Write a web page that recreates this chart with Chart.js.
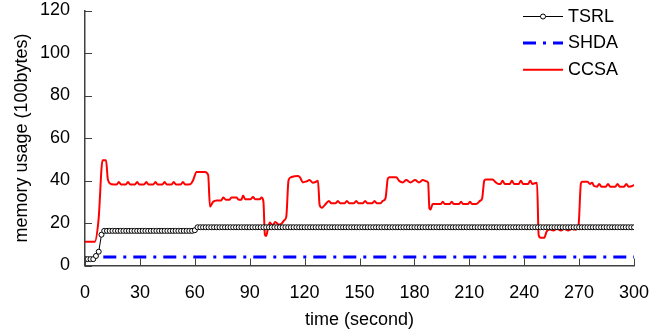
<!DOCTYPE html>
<html>
<head>
<meta charset="utf-8">
<script src="https://cdn.jsdelivr.net/npm/chart.js@4.4.1/dist/chart.umd.min.js"></script>
<style>
html,body{margin:0;padding:0;background:#fff;}
#wrap{width:668px;height:336px;}
</style>
</head>
<body>
<div id="wrap"><canvas id="c" width="668" height="336"></canvas></div>
<script>
const seriesNames = ['TSRL', 'SHDA', 'CCSA'];
const xTickValues = [0, 30, 60, 90, 120, 150, 180, 210, 240, 270, 300];
const yTickValues = [0, 20, 40, 60, 80, 100, 120];

// TSRL sampled every 1.5 s
const tsrlStep = 1.5;
const tsrlValue = [
  3,3,3,3,4.5,6.5,14.5,16.3,16.3,16.3,16.3,16.3,16.3,16.3,16.3,16.3,16.3,16.3,16.3,16.3,
  16.3,16.3,16.3,16.3,16.3,16.3,16.3,16.3,16.3,16.3,16.3,16.3,16.3,16.3,16.3,16.3,16.3,16.3,16.3,16.3,
  16.6,18,18,18,18,18,18,18,18,18,18,18,18,18,18,18,18,18,18,18,
  18,18,18,18,18,18,18,18,18,18,18,18,18,18,18,18,18,18,18,18,
  18,18,18,18,18,18,18,18,18,18,18,18,18,18,18,18,18,18,18,18,
  18,18,18,18,18,18,18,18,18,18,18,18,18,18,18,18,18,18,18,18,
  18,18,18,18,18,18,18,18,18,18,18,18,18,18,18,18,18,18,18,18,
  18,18,18,18,18,18,18,18,18,18,18,18,18,18,18,18,18,18,18,18,
  18,18,18,18,18,18,18,18,18,18,18,18,18,18,18,18,18,18,18,18,
  18,18,18,18,18,18,18,18,18,18,18,18,18,18,18,18,18,18,18,18,18
];

const shdaTime = [10, 300];
const shdaValue = [4, 4];

const ccsaTime = [
  0,5.3,7.4,9.6,11.5,12.5,14.7,17.3,18.5,19.7,22.3,23.5,24.7,27.3,28.5,29.7,32.3,33.5,34.7,37.3,
  38.5,39.7,42.3,43.5,44.7,47.3,48.5,49.7,52.3,53.5,54.7,57.5,59,61,65.5,67.3,68.3,70,72,74.5,
  75.5,77,79,80,82.7,84,85.5,86.4,87.5,90.5,91.8,93,95.5,96.5,97.5,98.3,99,100,101,102.5,
  104,105.8,107.5,109,110,111.2,112.5,116.4,117.5,119,121,122.7,124.5,126,127.3,128.2,129.5,131,133.3,134.6,
  137,138.2,139.4,141.9,143.1,144.3,147,148.2,149.4,151.9,153.1,154.3,157,158.2,159.4,161.5,162.7,164.2,165.5,166.4,
  170,171.8,173.6,175.6,177.8,180.4,182.5,184.6,186.4,187.5,188.2,188.8,190,194.3,195.5,196.7,199.2,200.4,201.6,204.3,
  205.5,206.7,209.2,210.4,211.6,213.7,216,217,218.2,219,222.7,224.5,226,227,228.2,229.4,232.1,233.3,234.5,237,
  238.2,239.4,242.1,243.3,244.5,247,247.9,249,251,252.2,253.6,256,258,260,262,264,266,268,269.7,271,
  271.8,274.5,276,277.1,278.2,279.8,281,282.2,284.6,285.8,287,289.8,291,292.2,294.6,295.8,297,299,300
];
const ccsaValue = [
  11.2,11.2,21.5,49.5,49.5,40.5,38.2,38.1,39.3,38.1,38.1,39.3,38.1,38.1,39.3,38.1,38.1,39.3,38.1,38.1,
  39.3,38.1,38.1,39.3,38.1,38.1,39.3,38.1,38.1,39.3,38.1,38.2,40,44,44,42.6,27.7,30,30.6,30.6,
  32,31,31,32,32,31,31,33,31.2,31.2,32.2,31.2,31.2,32,30,14.5,13.9,17.5,20.2,18.8,
  20.5,19.3,19.8,21.4,23,40,41.5,42.1,41.5,39.1,39.6,40.2,39,39.3,39.9,28.5,27.2,28.4,30.4,29.3,
  29.3,30.4,29.3,29.3,30.4,29.3,29.3,30.4,29.3,29.3,30.4,29.3,29.3,30.4,29.3,29.3,30.4,31.6,41,41.5,
  41.5,39.7,39.1,40.2,39.1,40.2,39.1,40.2,39.6,39,26.9,26.4,28.9,28.9,30,28.9,28.9,30,28.9,28.9,
  30,28.9,28.9,30,28.9,28.9,30.5,31.5,40,40.5,40.5,39.1,38.4,38.4,39.9,38.4,38.4,39.9,38.4,38.4,
  39.9,38.4,38.4,39.9,38.4,39,14.4,13.1,13.1,15.9,17,16.5,17.3,16.5,17.3,16.5,17.2,16.8,19,38.7,
  39.4,39.4,38.4,39,37.4,37.1,38.4,37.1,37.1,38.4,37.1,37.1,38.4,37.1,37.1,38.4,37.1,37.4,38
];

const FONT = "'Liberation Sans', Arial, sans-serif";
const AXIS_COLOR = '#404040';

const tsrlData = tsrlValue.map((v, i) => ({x: i * tsrlStep, y: v}));
const shdaData = shdaTime.map((t, i) => ({x: t, y: shdaValue[i]}));
const ccsaData = ccsaTime.map((t, i) => ({x: t, y: ccsaValue[i]}));

const inwardTicks = {
  id: 'inwardTicks',
  afterDraw(chart) {
    const ctx = chart.ctx;
    const xs = chart.scales.x, ys = chart.scales.y;
    const area = chart.chartArea;
    ctx.save();
    ctx.strokeStyle = AXIS_COLOR;
    ctx.lineWidth = 1;
    xTickValues.forEach(v => {
      const px = Math.round(xs.getPixelForValue(v)) + 0.5;
      ctx.beginPath();
      ctx.moveTo(px, area.bottom);
      ctx.lineTo(px, area.bottom - 7);
      ctx.stroke();
    });
    yTickValues.forEach(v => {
      const py = Math.round(ys.getPixelForValue(v)) + 0.5;
      ctx.beginPath();
      ctx.moveTo(area.left, py);
      ctx.lineTo(area.left + 7, py);
      ctx.stroke();
    });
    ctx.restore();
  }
};

const customLegend = {
  id: 'customLegend',
  afterDraw(chart) {
    const ctx = chart.ctx;
    const rows = [16.5, 43, 69.8];
    const x1 = 523, x2 = 563, tx = 568;
    ctx.save();
    chart.data.datasets.forEach((ds, i) => {
      const y = rows[i];
      ctx.beginPath();
      ctx.strokeStyle = ds.borderColor;
      ctx.lineWidth = ds.borderWidth;
      ctx.setLineDash(ds.borderDash || []);
      ctx.moveTo(x1, y);
      ctx.lineTo(x2, y);
      ctx.stroke();
      ctx.setLineDash([]);
      if (ds.pointRadius > 0) {
        ctx.beginPath();
        ctx.fillStyle = ds.pointBackgroundColor;
        ctx.strokeStyle = ds.pointBorderColor;
        ctx.lineWidth = ds.pointBorderWidth;
        ctx.arc((x1 + x2) / 2, y, ds.pointRadius, 0, Math.PI * 2);
        ctx.fill();
        ctx.stroke();
      }
      ctx.fillStyle = '#000';
      ctx.font = '18px ' + FONT;
      ctx.textAlign = 'left';
      ctx.textBaseline = 'middle';
      ctx.fillText(seriesNames[i], tx, y + 0.5);
    });
    ctx.restore();
  }
};

new Chart(document.getElementById('c'), {
  type: 'line',
  data: {
    datasets: [
      {
        label: seriesNames[0], data: tsrlData,
        borderColor: '#000', borderWidth: 1,
        pointRadius: 2.5, pointBorderWidth: 1,
        pointBackgroundColor: '#fff', pointBorderColor: '#000',
        tension: 0
      },
      {
        label: seriesNames[1], data: shdaData,
        borderColor: '#0000ff', borderWidth: 3,
        borderDash: [13, 7, 3, 7],
        pointRadius: 0, tension: 0
      },
      {
        label: seriesNames[2], data: ccsaData,
        borderColor: '#ff0000', borderWidth: 2,
        pointRadius: 0, tension: 0.4, cubicInterpolationMode: 'monotone'
      }
    ]
  },
  options: {
    responsive: false,
    animation: false,
    events: [],
    layout: {padding: {top: 10.5, right: 34, left: 0, bottom: 0}},
    plugins: {legend: {display: false}, tooltip: {enabled: false}},
    scales: {
      x: {
        type: 'linear', min: 0, max: 300,
        afterBuildTicks: s => { s.ticks = xTickValues.map(v => ({value: v})); },
        afterFit: s => { s.height = 70.5; s.paddingLeft = 0; s.paddingRight = 0; },
        grid: {display: false, drawTicks: false},
        border: {display: true, color: AXIS_COLOR, width: 1.5},
        ticks: {color: '#000', font: {family: FONT, size: 18}, padding: 17, maxRotation: 0, autoSkip: false},
        title: {display: true, text: 'time (second)', color: '#000', font: {family: FONT, size: 18}, padding: {top: 0, bottom: 5.4}}
      },
      y: {
        type: 'linear', min: 0, max: 120,
        afterBuildTicks: s => { s.ticks = yTickValues.map(v => ({value: v})); },
        afterFit: s => { s.width = 85; s.paddingTop = 0; s.paddingBottom = 0; },
        grid: {display: false, drawTicks: false},
        border: {display: true, color: AXIS_COLOR, width: 1.5},
        ticks: {color: '#000', font: {family: FONT, size: 18}, padding: 15, autoSkip: false},
        title: {display: true, text: 'memory usage (100bytes)', color: '#000', font: {family: FONT, size: 18}, padding: {top: 11.2, bottom: 0}}
      }
    }
  },
  plugins: [inwardTicks, customLegend]
});
</script>
</body>
</html>
